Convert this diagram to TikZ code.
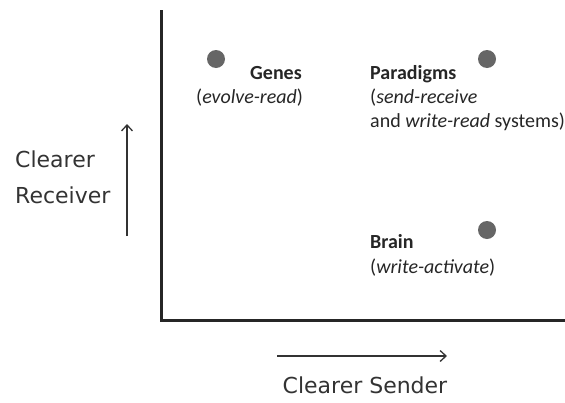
\documentclass[tikz,border=0pt]{standalone}
\usepackage{fontspec}
\setmainfont{Carlito}
\newfontfamily\axisfont{DejaVu Sans}
\usetikzlibrary{arrows.meta}
\begin{document}
\begin{tikzpicture}[x=1pt,y=-1pt,
  dot/.style={circle,fill=black!60,minimum size=18pt,inner sep=0pt},
  lab/.style={anchor=base west,inner sep=0pt,font=\fontsize{20}{24}\selectfont,text=black!85},
  axlab/.style={inner sep=0pt,font=\axisfont\fontsize{22}{30}\selectfont,text=black!80},
  arr/.style={-{Straight Barb[length=6pt,width=11pt]},line width=1.3pt,black!80}]
\useasboundingbox (0,0) rectangle (565,402);
\coordinate (top) at (161.5,10);
\coordinate (corner) at (161.5,320.5);
\coordinate (right) at (565,320.5);
\draw[line width=3pt,black!85] (top) -- (corner) -- (right);
\node[dot] (dg) at (216,59) {};
\node[dot] (dp) at (487,59) {};
\node[dot] (db) at (487,230) {};
\node[lab] (genes) at (250,79) {\textbf{Genes}};
\node[lab] (genessub) at (196,103) {(\textit{evolve-read})};
\node[lab] (par) at (370,79) {\textbf{Paradigms}};
\node[lab] (parsub) at (370,103) {(\textit{send-receive}};
\node[lab] (parsub2) at (370,127) {and \textit{write-read} systems)};
\node[lab] (brain) at (370,248) {\textbf{Brain}};
\node[lab] (brainsub) at (370,273) {(\textit{write-activate})};
\coordinate (va) at (127,236);
\coordinate (vb) at (127,124);
\draw[arr] (va) -- (vb);
\coordinate (ha) at (277,356);
\coordinate (hb) at (447,356);
\draw[arr] (ha) -- (hb);
\node[axlab,anchor=base west] (recv1) at (15,167) {Clearer};
\node[axlab,anchor=base west] (recv2) at (15,203) {Receiver};
\node[axlab,anchor=base] (send) at (365,393) {Clearer Sender};
\end{tikzpicture}
\end{document}
